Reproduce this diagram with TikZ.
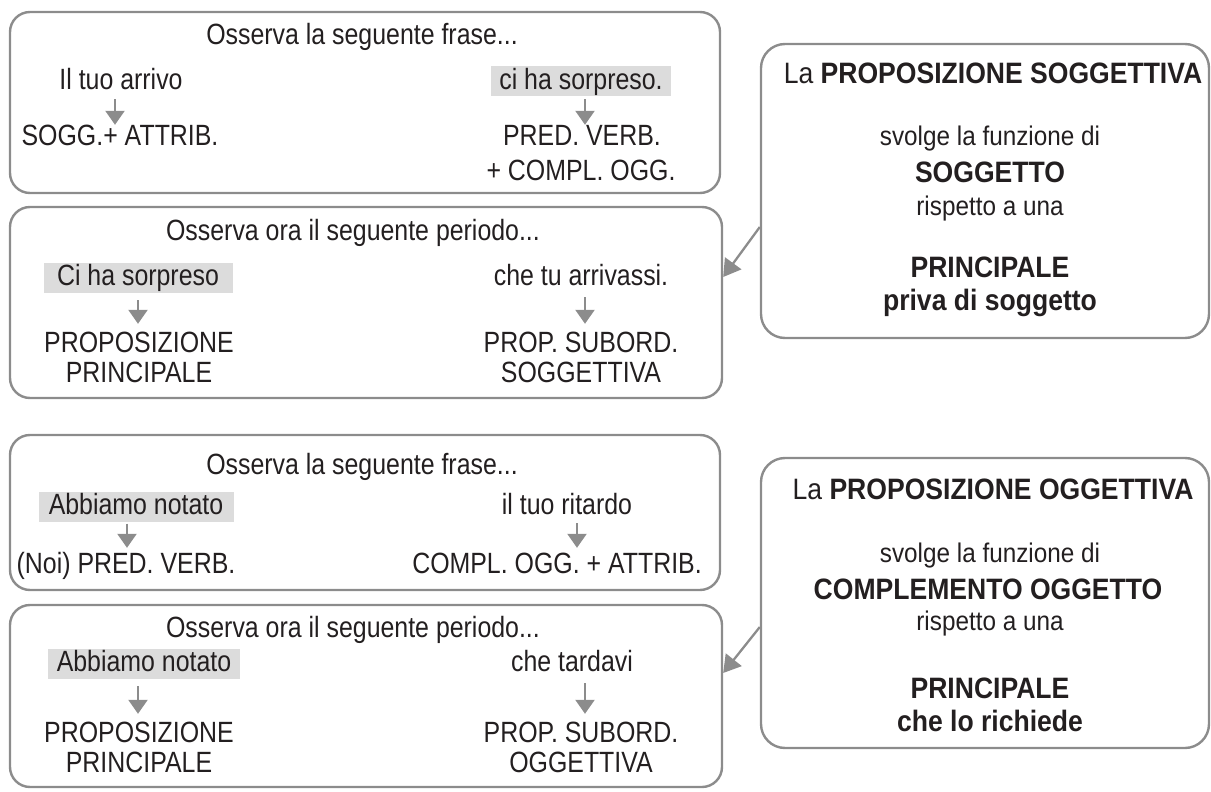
\documentclass[tikz,border=0pt]{standalone}
\usepackage{fontspec}
\setmainfont[FakeStretch=0.85]{Liberation Sans}
\newfontfamily\calfont[FakeStretch=0.9]{Liberation Sans}
\usepackage{tikz}
\usetikzlibrary{arrows.meta,positioning}
\definecolor{linegray}{HTML}{8C8C8C}
\definecolor{hlgray}{HTML}{DCDCDC}
\definecolor{inkgray}{HTML}{231F20}

\begin{document}
\begin{tikzpicture}[x=1pt,y=-1pt,
box/.style={rectangle, rounded corners=20pt, draw=linegray, line width=2.4pt, inner sep=0pt},
txt/.style={text=inkgray, font=\fontsize{29.3}{30}\selectfont, inner sep=0pt, text height=21pt, text depth=6pt, anchor=base},
hl/.style={txt, fill=hlgray, inner xsep=8pt, inner ysep=1.5pt},
cal/.style={text=inkgray, font=\calfont\fontsize{27}{30}\selectfont, inner sep=0pt, anchor=base},
calb/.style={text=inkgray, font=\calfont\fontsize{29.5}{32}\selectfont\bfseries, inner sep=0pt, anchor=base},
arr/.style={draw=linegray, line width=2.3pt, -{Triangle[width=19pt,length=14pt]}},
ptr/.style={draw=linegray, line width=2.3pt, -{Triangle[width=20pt,length=17pt]}},]
\useasboundingbox (0,0) rectangle (1211,792);

%Boxes
\node[box, minimum width=710pt, minimum height=181pt] (b1) at (365,102.5) {};
\node[box, minimum width=712pt, minimum height=191pt] (b2) at (366,302.5) {};
\node[box, minimum width=710pt, minimum height=155pt] (b3) at (365,512.5) {};
\node[box, minimum width=712pt, minimum height=182pt] (b4) at (366,696) {};
\node[box, rounded corners=24pt, minimum width=448pt, minimum height=294pt] (c1) at (985,191) {};
\node[box, rounded corners=24pt, minimum width=448pt, minimum height=290pt] (c2) at (985,603) {};

%Nodes
\node[txt] (t1) at (362,45) {Osserva la seguente frase...};
\node[txt] (a1) at (121,89) {Il tuo arrivo};
\node[txt] (a2) at (120,146) {SOGG.+ ATTRIB.};
\node[hl, minimum width=177pt] (a3) at (581,89) {ci ha sorpreso.};
\node[txt] (a4) at (582,146) {PRED. VERB.};
\node[txt] (a5) at (581,180) {+ COMPL. OGG.};

\node[txt] (t2) at (353,240) {Osserva ora il seguente periodo...};
\node[hl, minimum width=189pt] (s1) at (138,285) {Ci ha sorpreso};
\node[txt] (s2) at (139,352) {PROPOSIZIONE};
\node[txt] (s3) at (139,382) {PRINCIPALE};
\node[txt] (s4) at (581,285) {che tu arrivassi.};
\node[txt] (s5) at (581,352) {PROP. SUBORD.};
\node[txt] (s6) at (581,382) {SOGGETTIVA};

\node[txt] (t3) at (362,474) {Osserva la seguente frase...};
\node[hl, minimum width=195pt] (d1) at (136,514) {Abbiamo notato};
\node[txt] (d2) at (126,573) {(Noi) PRED. VERB.};
\node[txt] (d3) at (567,514) {il tuo ritardo};
\node[txt] (d4) at (557,573) {COMPL. OGG. + ATTRIB.};

\node[txt] (t4) at (353,637) {Osserva ora il seguente periodo...};
\node[hl, minimum width=192pt] (o1) at (144,671) {Abbiamo notato};
\node[txt] (o2) at (139,742) {PROPOSIZIONE};
\node[txt] (o3) at (139,772) {PRINCIPALE};
\node[txt] (o4) at (572,671) {che tardavi};
\node[txt] (o5) at (581,742) {PROP. SUBORD.};
\node[txt] (o6) at (581,772) {OGGETTIVA};

\node[cal] (p1) at (993,84) {\fontsize{29.5}{32}\selectfont La \textbf{PROPOSIZIONE SOGGETTIVA}};
\node[cal] (p2) at (990,146) {svolge la funzione di};
\node[calb] (p3) at (990,182) {SOGGETTO};
\node[cal] (p4) at (990,215) {rispetto a una};
\node[calb] (p5) at (990,277) {PRINCIPALE};
\node[calb] (p6) at (990,310) {priva di soggetto};

\node[cal] (q1) at (993,499) {\fontsize{29.5}{32}\selectfont La \textbf{PROPOSIZIONE OGGETTIVA}};
\node[cal] (q2) at (990,562) {svolge la funzione di};
\node[calb] (q3) at (988,599) {COMPLEMENTO OGGETTO};
\node[cal] (q4) at (990,630) {rispetto a una};
\node[calb] (q5) at (990,698) {PRINCIPALE};
\node[calb] (q6) at (990,731) {che lo richiede};

%Lines
\draw[arr, shorten <=4pt] ([xshift=-6pt]a1.south) -- ([xshift=-6pt]a1.south |- a2.north);
\draw[arr, shorten <=2.5pt] ([xshift=4pt]a3.south) -- ([xshift=4pt]a3.south |- a4.north);
\draw[arr, shorten <=7.5pt, shorten >=7pt] (s1.south) -- (s1.south |- s2.north);
\draw[arr, shorten <=6pt, shorten >=7pt] ([xshift=4pt]s4.south) -- ([xshift=4pt]s4.south |- s5.north);
\draw[arr, shorten <=2pt, shorten >=4pt] ([xshift=-9pt]d1.south) -- ([xshift=-9pt]d1.south |- d2.north);
\draw[arr, shorten <=3pt, shorten >=4pt] ([xshift=10pt]d3.south) -- ([xshift=10pt]d3.south |- d4.north);
\draw[arr, shorten <=7.5pt, shorten >=7pt] ([xshift=-6pt]o1.south) -- ([xshift=-6pt]o1.south |- o2.north);
\draw[arr, shorten <=6pt, shorten >=7pt] ([xshift=13pt]o4.south) -- ([xshift=13pt]o4.south |- o5.north);

\draw[ptr] ([yshift=-36pt]c1.west) -- ([yshift=25.5pt]b2.east);
\draw[ptr] ([yshift=-24pt]c2.west) -- ([yshift=23pt]b4.east);

\end{tikzpicture}
\end{document}
